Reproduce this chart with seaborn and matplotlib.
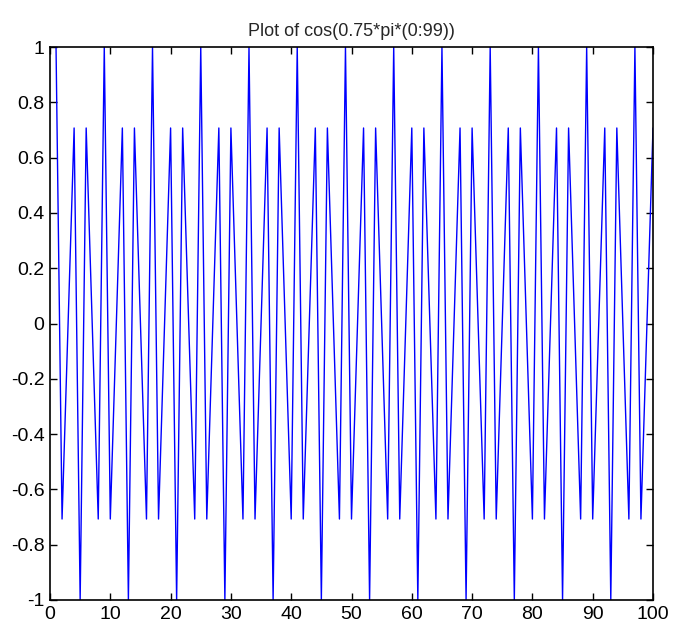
import matplotlib
matplotlib.use("Agg")
import matplotlib.pyplot as plt
import seaborn as sns
import pandas as pd

sns.set_style("white")
plt.rcParams['font.family'] = ['Liberation Sans', 'DejaVu Sans']

x_index = list(range(1, 101))
y_values = [
    1, -0.7071, 0, 0.7071, -1, 0.7071, 0, -0.7071,
    1, -0.7071, 0, 0.7071, -1, 0.7071, 0, -0.7071,
    1, -0.7071, 0, 0.7071, -1, 0.7071, 0, -0.7071,
    1, -0.7071, 0, 0.7071, -1, 0.7071, 0, -0.7071,
    1, -0.7071, 0, 0.7071, -1, 0.7071, 0, -0.7071,
    1, -0.7071, 0, 0.7071, -1, 0.7071, 0, -0.7071,
    1, -0.7071, 0, 0.7071, -1, 0.7071, 0, -0.7071,
    1, -0.7071, 0, 0.7071, -1, 0.7071, 0, -0.7071,
    1, -0.7071, 0, 0.7071, -1, 0.7071, 0, -0.7071,
    1, -0.7071, 0, 0.7071, -1, 0.7071, 0, -0.7071,
    1, -0.7071, 0, 0.7071, -1, 0.7071, 0, -0.7071,
    1, -0.7071, 0, 0.7071, -1, 0.7071, 0, -0.7071,
    1, -0.7071, 0, 0.7071,
]
x_ticks = [0, 10, 20, 30, 40, 50, 60, 70, 80, 90, 100]
y_ticks = [-1, -0.8, -0.6, -0.4, -0.2, 0, 0.2, 0.4, 0.6, 0.8, 1]
y_tick_labels = ['-1', '-0.8', '-0.6', '-0.4', '-0.2', '0', '0.2', '0.4', '0.6', '0.8', '1']
title = "Plot of cos(0.75*pi*(0:99))"

df = pd.DataFrame({"x": x_index, "y": y_values})

fig = plt.figure(figsize=(6.85, 6.28), dpi=100)
ax = fig.add_axes([50/685, 1 - 600/628, (653-50)/685, (600-47)/628])
sns.lineplot(data=df, x="x", y="y", ax=ax, color=(0, 0, 1), linewidth=1.0, estimator=None)

ax.set_xlim(0, 100)
ax.set_ylim(-1, 1)
ax.set_xticks(x_ticks)
ax.set_xticklabels([str(t) for t in x_ticks])
ax.set_yticks(y_ticks)
ax.set_yticklabels(y_tick_labels)
ax.set_xlabel("")
ax.set_ylabel("")
ax.set_title(title, fontsize=13, pad=8)
ax.tick_params(axis='both', direction='in', length=5, width=1, labelsize=14,
               top=True, right=True, bottom=True, left=True, colors='black', pad=4)
for s in ax.spines.values():
    s.set_color('black')
    s.set_linewidth(1.2)

fig.savefig("out.png", dpi=100)
